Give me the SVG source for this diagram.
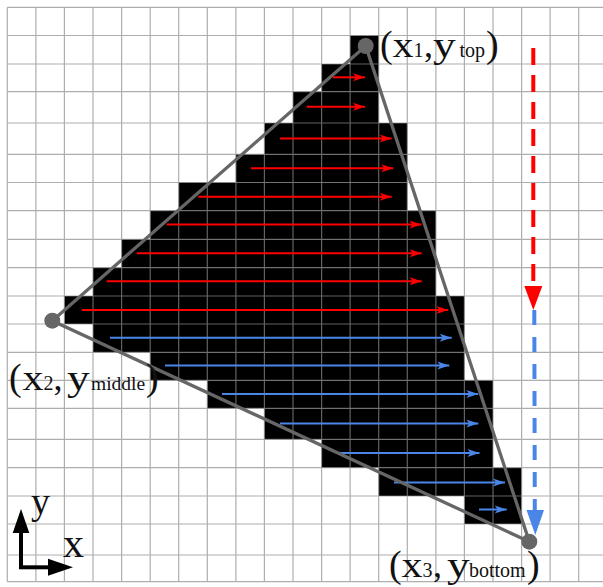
<svg xmlns="http://www.w3.org/2000/svg" width="603" height="587" viewBox="0 0 603 587">
<style>
.grid{fill:none;stroke:#8c8c8c;stroke-opacity:0.7;stroke-width:1.2}
.cell{fill:#000}
.edge{stroke:#666;stroke-width:3.3;fill:none;stroke-linecap:round}
.vtx{fill:#666}
.scanr{stroke:#ff0000;stroke-width:2;fill:none;marker-end:url(#ahr)}
.scanb{stroke:#4a86e8;stroke-width:2;fill:none;marker-end:url(#ahb)}
.lbl{font-family:"Liberation Serif","Times New Roman",serif;fill:#111}
.big{font-size:35px}
.cm{font-size:36px}
.par{font-size:38px}
.sub{font-size:20px}
</style>
<defs>
<marker id="ahr" markerUnits="userSpaceOnUse" markerWidth="13" markerHeight="9" refX="12" refY="4.5" orient="auto" overflow="visible">
<path d="M0,0.5 L12,4.5 L0,8.5 L3,4.5 Z" fill="#ff0000"/>
</marker>
<marker id="ahb" markerUnits="userSpaceOnUse" markerWidth="13" markerHeight="9" refX="12" refY="4.5" orient="auto" overflow="visible">
<path d="M0,0.5 L12,4.5 L0,8.5 L3,4.5 Z" fill="#4a86e8"/>
</marker>
</defs>
<rect width="603" height="587" fill="#fff"/>
<g id="cells">
<rect class="cell" x="350.1" y="35.5" width="28.6" height="28.5"/>
<rect class="cell" x="321.6" y="64" width="57.1" height="27.7"/>
<rect class="cell" x="293.0" y="91.7" width="85.7" height="31.3"/>
<rect class="cell" x="264.4" y="123" width="142.9" height="31.3"/>
<rect class="cell" x="235.9" y="154.3" width="171.4" height="28.2"/>
<rect class="cell" x="178.7" y="182.5" width="228.6" height="28.2"/>
<rect class="cell" x="150.2" y="210.7" width="285.7" height="28.6"/>
<rect class="cell" x="121.6" y="239.3" width="314.3" height="28.4"/>
<rect class="cell" x="93.0" y="267.7" width="342.9" height="28.3"/>
<rect class="cell" x="64.4" y="296" width="400.0" height="28"/>
<rect class="cell" x="93.0" y="324" width="371.4" height="28.3"/>
<rect class="cell" x="150.2" y="352.3" width="314.2" height="28"/>
<rect class="cell" x="207.3" y="380.3" width="285.7" height="28"/>
<rect class="cell" x="264.4" y="408.3" width="228.6" height="31"/>
<rect class="cell" x="321.6" y="439.3" width="171.4" height="28.4"/>
<rect class="cell" x="378.7" y="467.7" width="142.9" height="28.3"/>
<rect class="cell" x="464.4" y="496" width="57.2" height="28"/>
</g>
<path class="grid" d="M7.3,7.3V581.7M35.9,7.3V581.7M64.4,7.3V581.7M93.0,7.3V581.7M121.6,7.3V581.7M150.2,7.3V581.7M178.7,7.3V581.7M207.3,7.3V581.7M235.9,7.3V581.7M264.4,7.3V581.7M293.0,7.3V581.7M321.6,7.3V581.7M350.1,7.3V581.7M378.7,7.3V581.7M407.3,7.3V581.7M435.9,7.3V581.7M464.4,7.3V581.7M493.0,7.3V581.7M521.6,7.3V581.7M550.1,7.3V581.7M578.7,7.3V581.7
M7.3,7.3H603M7.3,35.5H603M7.3,64H603M7.3,91.7H603M7.3,123H603M7.3,154.3H603M7.3,182.5H603M7.3,210.7H603M7.3,239.3H603M7.3,267.7H603M7.3,296H603M7.3,324H603M7.3,352.3H603M7.3,380.3H603M7.3,408.3H603M7.3,439.3H603M7.3,467.7H603M7.3,496H603M7.3,524H603M7.3,555H603M7.3,581.7H603"/>
<g id="connectors">
<g id="scanlines">
<line class="scanr" x1="333" y1="77.3" x2="365" y2="77.3"/>
<line class="scanr" x1="306.7" y1="106.7" x2="365" y2="106.7"/>
<line class="scanr" x1="280" y1="138.5" x2="391.7" y2="138.5"/>
<line class="scanr" x1="251" y1="168.3" x2="393.3" y2="168.3"/>
<line class="scanr" x1="198.3" y1="196.7" x2="391.7" y2="196.7"/>
<line class="scanr" x1="166.7" y1="224.5" x2="421.5" y2="224.5"/>
<line class="scanr" x1="136.7" y1="253.3" x2="421.7" y2="253.3"/>
<line class="scanr" x1="106.7" y1="281.3" x2="421.7" y2="281.3"/>
<line class="scanr" x1="81.7" y1="310" x2="448.3" y2="310"/>
<line class="scanb" x1="110" y1="337.7" x2="451.7" y2="337.7"/>
<line class="scanb" x1="165" y1="365.5" x2="449.3" y2="365.5"/>
<line class="scanb" x1="222" y1="394" x2="478.3" y2="394"/>
<line class="scanb" x1="280" y1="423.5" x2="478.3" y2="423.5"/>
<line class="scanb" x1="337" y1="453" x2="479.5" y2="453"/>
<line class="scanb" x1="394" y1="482.5" x2="505" y2="482.5"/>
<line class="scanb" x1="479" y1="509.5" x2="506.7" y2="509.5"/>
</g>
<g id="triangle">
<path class="edge" d="M365.7,46 L52.3,320.7 L529.3,541.7 Z"/>
</g>
<g id="sweep">
<line x1="533.3" y1="48" x2="533.3" y2="287" stroke="#ff0000" stroke-width="4" stroke-dasharray="17 10"/>
<polygon points="524.3,286 542.3,286 533.3,310" fill="#ff0000"/>
<line x1="534.3" y1="310" x2="534.8" y2="512" stroke="#4a86e8" stroke-width="4" stroke-dasharray="15 12"/>
<polygon points="526.5,510 544,510 535.3,535" fill="#4a86e8"/>
</g>
<g id="axes">
<line x1="21" y1="531" x2="21" y2="569" stroke="#000" stroke-width="4"/>
<line x1="19" y1="567.3" x2="50" y2="567.3" stroke="#000" stroke-width="4"/>
<polygon points="12.7,533 29.3,533 21,509" fill="#000"/>
<polygon points="48,558.8 48,575.8 73,567.3" fill="#000"/>
</g>
</g>
<g id="v1">
<circle class="vtx" cx="365.7" cy="46" r="8"/>
<text class="lbl par" x="380" y="57">(</text>
<text class="lbl big" transform="translate(392.5,57) scale(1.2,1)">x</text>
<text class="lbl sub" x="413.5" y="57">1</text>
<text class="lbl cm" x="424" y="57">,</text>
<text class="lbl big" transform="translate(433,57) scale(1.3,1)">y</text>
<text class="lbl sub" x="459.5" y="57">top</text>
<text class="lbl par" x="486" y="57">)</text>
</g>
<g id="v2">
<circle class="vtx" cx="52.3" cy="320.7" r="8"/>
<text class="lbl par" x="9" y="390">(</text>
<text class="lbl big" transform="translate(22.5,390) scale(1.2,1)">x</text>
<text class="lbl sub" x="43.5" y="390">2</text>
<text class="lbl cm" x="53.5" y="390">,</text>
<text class="lbl big" transform="translate(67,390) scale(1.3,1)">y</text>
<text class="lbl sub" x="91" y="390" style="font-size:19.5px">middle</text>
<text class="lbl par" x="146" y="390">)</text>
</g>
<g id="v3">
<circle class="vtx" cx="529.3" cy="541.7" r="8"/>
<text class="lbl par" x="389" y="577">(</text>
<text class="lbl big" transform="translate(401.5,577) scale(1.2,1)">x</text>
<text class="lbl sub" x="422.5" y="577">3</text>
<text class="lbl cm" x="433" y="577">,</text>
<text class="lbl big" transform="translate(447,577) scale(1.3,1)">y</text>
<text class="lbl sub" x="469" y="577">bottom</text>
<text class="lbl par" x="527" y="577">)</text>
</g>
<g id="axis-labels">
<text class="lbl" x="31" y="514" style="font-size:38px">y</text>
<text class="lbl" x="63" y="557" style="font-size:42px">x</text>
</g>
</svg>
